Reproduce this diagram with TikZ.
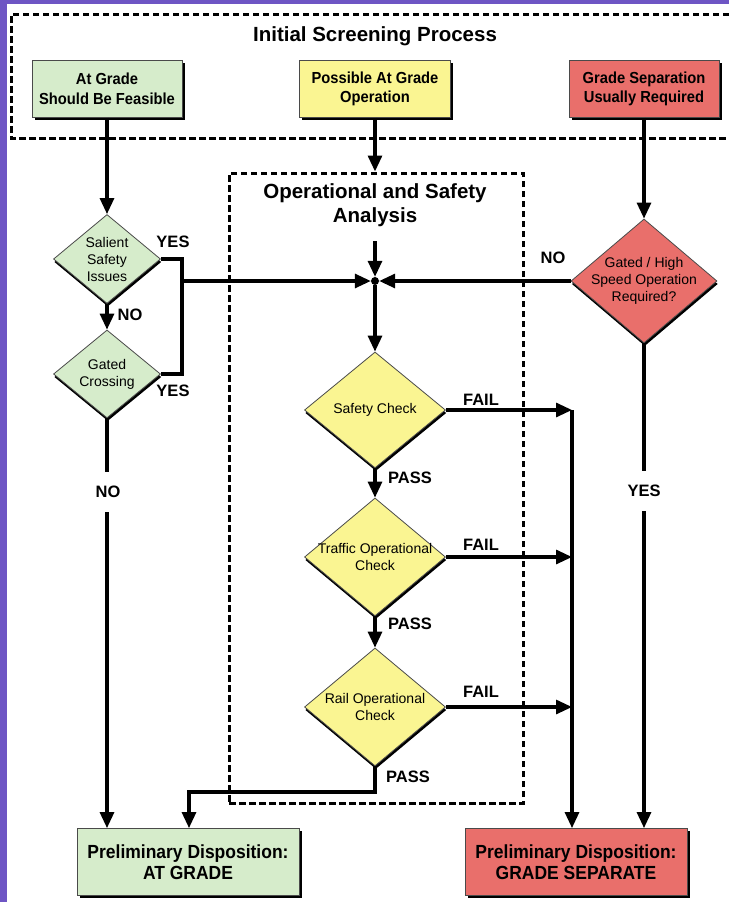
\documentclass[tikz,border=0pt]{standalone}
\usepackage{fontspec}
\setmainfont{Liberation Sans}
\newfontfamily\narrowsans{Liberation Sans}[FakeStretch=0.92]
\definecolor{fcGreen}{HTML}{D6ECCB}
\definecolor{fcYellow}{HTML}{FAF592}
\definecolor{fcRed}{HTML}{E96F6B}
\definecolor{fcPurple}{HTML}{6E55C4}
\definecolor{fcEdge}{HTML}{4A4A4A}
\usetikzlibrary{arrows.meta,shapes.geometric,shadows}

\tikzset{
  conn/.style={line width=3.1pt},
  arr/.style={conn, -{Triangle[length=16pt,width=14pt]}},
  dashbox/.style={draw, line width=3pt, dash pattern=on 6.5pt off 3.5pt},
  card/.style={draw=fcEdge, line width=0.8pt, align=center, inner sep=0pt,
    drop shadow={shadow xshift=2.8pt, shadow yshift=-2.8pt, fill=black, opacity=1},
    font=\narrowsans\fontsize{16}{19.5}\selectfont\bfseries},
  endcard/.style={card, minimum width=222pt, minimum height=67pt,
    font=\narrowsans\fontsize{19}{21.5}\selectfont\bfseries},
  decision/.style={diamond, draw=fcEdge, line width=0.8pt, align=center, inner sep=-25pt,
    drop shadow={shadow xshift=0.8pt, shadow yshift=-3pt, fill=black, opacity=1},
    font=\fontsize{14}{17}\selectfont},
  lbl/.style={font=\fontsize{16.5}{18}\selectfont\bfseries, inner sep=1pt},
  heading/.style={font=\fontsize{20.5}{24}\selectfont\bfseries, align=center},
}

\begin{document}
\begin{tikzpicture}[x=1pt,y=-1pt]
  \useasboundingbox (0,0) rectangle (729,902);
  \fill[white] (0,0) rectangle (729,902);
  \fill[fcPurple] (0,0) rectangle (729,4);
  \fill[fcPurple] (0,0) rectangle (7,902);

  % Initial screening
  \draw[dashbox] (729,14) -- (11,14) -- (11,138) -- (729,138);
  \node[heading] (scrTitle) at (375,36) {Initial Screening Process};
  \node[card, fill=fcGreen, minimum width=150pt, minimum height=57pt] (gFeasible) at (107,89) {At Grade\\Should Be Feasible};
  \node[card, fill=fcYellow, minimum width=151pt, minimum height=57pt] (yPossible) at (375,89) {Possible At Grade\\Operation};
  \node[card, fill=fcRed, minimum width=150pt, minimum height=57pt] (rRequired) at (644,89) {Grade Separation\\Usually Required};

  % Operational and safety analysis
  \node[dashbox, minimum width=294pt, minimum height=630pt, inner sep=0pt] (opsBox) at (376,488) {};
  \node[heading] (opsTitle) at (375,205) {Operational and Safety\\Analysis};
  \coordinate (opsIn) at (375,241);
  \node[circle, fill, inner sep=0pt, minimum size=8pt] (jct) at (375,281) {};

  % Decisions
  \node[decision, fill=fcGreen, minimum width=107pt, minimum height=89pt] (salient) at (107,259) {Salient\\Safety\\Issues};
  \node[decision, fill=fcGreen, minimum width=107pt, minimum height=88pt] (gated) at (107,374) {Gated\\Crossing};
  \node[decision, fill=fcRed, minimum width=146pt, minimum height=124pt] (highSpeed) at (644,281) {Gated / High\\Speed Operation\\Required?};
  \node[decision, fill=fcYellow, minimum width=141pt, minimum height=116pt] (safety) at (375,410) {Safety Check};
  \node[decision, fill=fcYellow, minimum width=141pt, minimum height=118pt] (traffic) at (375,557) {Traffic Operational\\Check};
  \node[decision, fill=fcYellow, minimum width=141pt, minimum height=118pt] (rail) at (375,707) {Rail Operational\\Check};

  % Dispositions
  \node[endcard, fill=fcGreen] (atGrade) at (188,862) {Preliminary Disposition:\\AT GRADE};
  \node[endcard, fill=fcRed] (sepGrade) at (576,862) {Preliminary Disposition:\\GRADE SEPARATE};

  % Left column
  \coordinate (yesBus) at (182,281);
  \draw[arr] (gFeasible) -- (salient);
  \draw[arr] (salient) -- (gated);
  \draw[conn] (salient.east) -| (yesBus) |- (gated.east);
  \draw[arr] (yesBus) -- (jct);
  \draw[arr] (gated.south) -- (gated.south |- atGrade.north);

  % Right column
  \draw[arr] (rRequired) -- (highSpeed);
  \draw[arr] (highSpeed.west) -- (jct);
  \draw[arr] (highSpeed.south) -- (highSpeed.south |- sepGrade.north);

  % Checks
  \coordinate (failTop) at (572,410);
  \coordinate (passTurn) at (189,792);
  \draw[arr] (yPossible.south) -- (yPossible.south |- opsBox.north);
  \draw[arr] (opsIn) -- (jct);
  \draw[arr] (jct) -- (safety);
  \draw[arr] (safety) -- (traffic);
  \draw[arr] (traffic) -- (rail);
  \draw[arr] (safety.east) -- (failTop);
  \draw[arr] (traffic.east) -- (traffic.east -| failTop);
  \draw[arr] (rail.east) -- (rail.east -| failTop);
  \draw[arr] (failTop) -- (failTop |- sepGrade.north);
  \draw[arr] (rail.south) |- (passTurn) -- (passTurn |- atGrade.north);

  % Labels
  \node[lbl] (yesSalient) at (173,242) {YES};
  \node[lbl] (noSalient) at (130,315) {NO};
  \node[lbl] (yesGated) at (173,391) {YES};
  \node[lbl, fill=white, inner ysep=14pt] (noGated) at (108,492) {NO};
  \node[lbl] (noHigh) at (553,258) {NO};
  \node[lbl, fill=white, inner ysep=14pt] (yesHigh) at (644,491) {YES};
  \node[lbl] (failSafety) at (481,400) {FAIL};
  \node[lbl] (failTraffic) at (481,545) {FAIL};
  \node[lbl] (failRail) at (481,692) {FAIL};
  \node[lbl] (passSafety) at (410,478) {PASS};
  \node[lbl] (passTraffic) at (410,624) {PASS};
  \node[lbl] (passRail) at (408,777) {PASS};
\end{tikzpicture}
\end{document}
